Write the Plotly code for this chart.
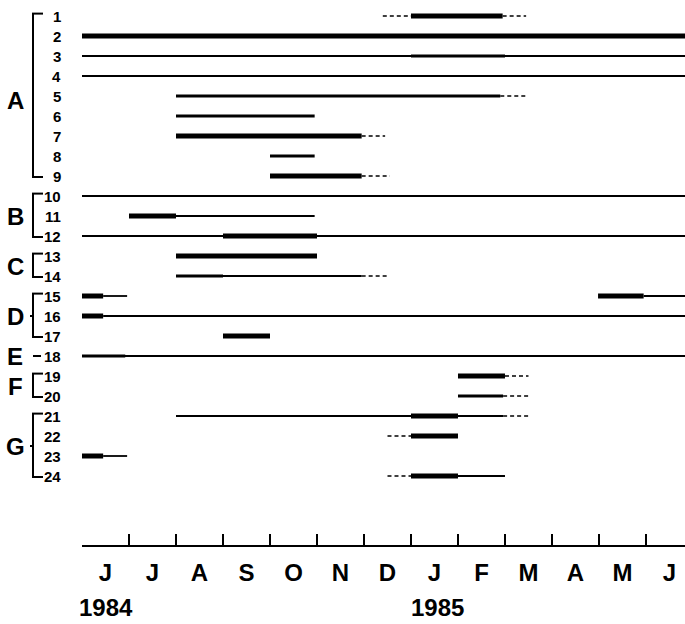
import plotly.graph_objects as go

W, H = 685, 624

# ---------------- data ----------------
month_labels = ["J", "J", "A", "S", "O", "N", "D", "J", "F", "M", "A", "M", "J"]
year_labels = ["1984", "1985"]
year_month_pos = [0.52, 7.56]          # months since 1 June 1984
row_labels = [str(i) for i in range(1, 25)]
group_names = ["A", "B", "C", "D", "E", "F", "G"]
group_first = [1, 10, 13, 15, 18, 19, 21]
group_last = [9, 12, 14, 17, 18, 20, 24]

END = 12.83  # end of observation window (months since 1 June 1984)

# segments: row, start month, end month, style
seg_row = [1, 1, 1,
           2,
           3, 3,
           4,
           5, 5,
           6,
           7, 7,
           8,
           9, 9,
           10,
           11, 11,
           12, 12,
           13,
           14, 14, 14,
           15, 15, 15, 15,
           16, 16,
           17,
           18, 18,
           19, 19,
           20, 20,
           21, 21, 21, 21,
           22, 22,
           23, 23,
           24, 24, 24]
seg_start = [6.40, 7.00, 8.95,
             0.00,
             0.00, 7.00,
             0.00,
             2.00, 8.90,
             2.00,
             2.00, 5.95,
             4.00,
             4.00, 5.95,
             0.00,
             1.00, 2.00,
             0.00, 3.00,
             2.00,
             2.00, 2.00, 5.95,
             0.00, 0.45, 10.98, 11.95,
             0.00, 0.45,
             3.00,
             0.00, 0.00,
             8.00, 9.00,
             8.00, 8.96,
             2.00, 7.00, 8.00, 8.96,
             6.50, 7.00,
             0.00, 0.45,
             6.50, 7.00, 8.00]
seg_end = [7.00, 8.95, 9.45,
           END,
           END, 9.00,
           END,
           8.90, 9.45,
           4.95,
           5.95, 6.45,
           4.95,
           5.95, 6.55,
           END,
           2.00, 4.95,
           END, 5.00,
           5.00,
           5.95, 3.00, 6.50,
           0.45, 0.96, 11.95, END,
           0.45, END,
           4.00,
           END, 0.92,
           9.00, 9.50,
           8.96, 9.50,
           7.00, 8.00, 8.96, 9.55,
           7.00, 8.00,
           0.45, 0.96,
           7.00, 8.00, 9.00]
seg_style = ["dash", "bar", "dash",
             "bar",
             "line", "med",
             "line",
             "med", "dash",
             "med",
             "bar", "dash",
             "med",
             "bar", "dash",
             "line",
             "bar", "line",
             "line", "bar",
             "bar",
             "line", "med", "dash",
             "bar", "line", "bar", "line",
             "bar", "line",
             "bar",
             "line", "med",
             "bar", "dash",
             "med", "dash",
             "line", "bar", "line", "dash",
             "dash", "bar",
             "bar", "line",
             "dash", "bar", "line"]

# ---------------- styles ----------------
styles = {
    "line": dict(width=1.8, dash="solid"),
    "med": dict(width=3.0, dash="solid"),
    "bar": dict(width=5.0, dash="solid"),
    "dash": dict(width=1.6, dash="4px,3px"),
}

BIG = "Liberation Sans, Arial, sans-serif"
DIGITS = "Liberation Sans, Arial, sans-serif"

fig = go.Figure()
for st in ["line", "med", "dash", "bar"]:
    xs, ys = [], []
    for r, a, b, s in zip(seg_row, seg_start, seg_end, seg_style):
        if s != st:
            continue
        xs += [a, b, None]
        ys += [r, r, None]
    fig.add_trace(go.Scatter(x=xs, y=ys, mode="lines",
                             line=dict(color="black", width=styles[st]["width"],
                                       dash=styles[st]["dash"]),
                             hoverinfo="skip", showlegend=False))


def px(x):
    return x / W


def py(y):
    return 1 - y / H


shapes = []
annotations = []
BX = 33
TX = 43
for name, f, l in zip(group_names, group_first, group_last):
    if f == l:
        shapes.append(dict(type="line", xref="paper", yref="y",
                           x0=px(BX), x1=px(41), y0=f, y1=f,
                           line=dict(color="black", width=2)))
    else:
        top, bot = f - 0.12, l + 0.05
        shapes.append(dict(type="line", xref="paper", yref="y",
                           x0=px(BX), x1=px(BX), y0=top, y1=bot,
                           line=dict(color="black", width=2)))
        for yy in (top, bot):
            shapes.append(dict(type="line", xref="paper", yref="y",
                               x0=px(BX - 1), x1=px(TX), y0=yy, y1=yy,
                               line=dict(color="black", width=2)))
        if name in ("D", "G"):
            mid = (f + l) / 2
            shapes.append(dict(type="line", xref="paper", yref="y",
                               x0=px(BX - 3), x1=px(BX), y0=mid, y1=mid,
                               line=dict(color="black", width=2)))
    annotations.append(dict(text=name, xref="paper", yref="y",
                            x=px(15), y=(f + l) / 2 + (0.2 if name == "A" else 0),
                            showarrow=False, xanchor="center", yanchor="middle",
                            font=dict(family=BIG, size=24, color="black",
                                      weight="bold")))

for i, lab in enumerate(row_labels):
    annotations.append(dict(text=lab, xref="paper", yref="y",
                            x=px(63), y=i + 1, showarrow=False,
                            xanchor="right", yanchor="middle",
                            font=dict(family=DIGITS, size=15, color="black",
                                      weight="bold")))

for lab, pos in zip(year_labels, year_month_pos):
    annotations.append(dict(text=lab, xref="x", yref="paper",
                            x=pos, y=py(607), showarrow=False,
                            xanchor="center", yanchor="middle",
                            font=dict(family=BIG, size=24, color="black",
                                      weight="bold")))

fig.update_layout(
    width=W, height=H,
    margin=dict(l=0, r=0, t=0, b=0),
    paper_bgcolor="white", plot_bgcolor="white",
    showlegend=False,
    shapes=shapes,
    annotations=annotations,
    xaxis=dict(
        domain=[82 / W, 1],
        range=[0, END],
        showgrid=False, zeroline=False,
        showline=True, linecolor="black", linewidth=1.5,
        tickmode="array",
        tickvals=[m + 0.5 for m in range(len(month_labels))],
        ticktext=month_labels,
        ticks="",
        ticklabelstandoff=5,
        tickfont=dict(family=BIG, size=24, color="black", weight="bold"),
        minor=dict(tickmode="array", tickvals=list(range(1, 13)),
                   ticks="inside", ticklen=11, tickwidth=1.5,
                   tickcolor="black", showgrid=False),
    ),
    yaxis=dict(
        domain=[1 - 545 / H, 1],
        range=[27.45, 0.2],
        visible=False,
    ),
)

fig.write_html("out.html")
